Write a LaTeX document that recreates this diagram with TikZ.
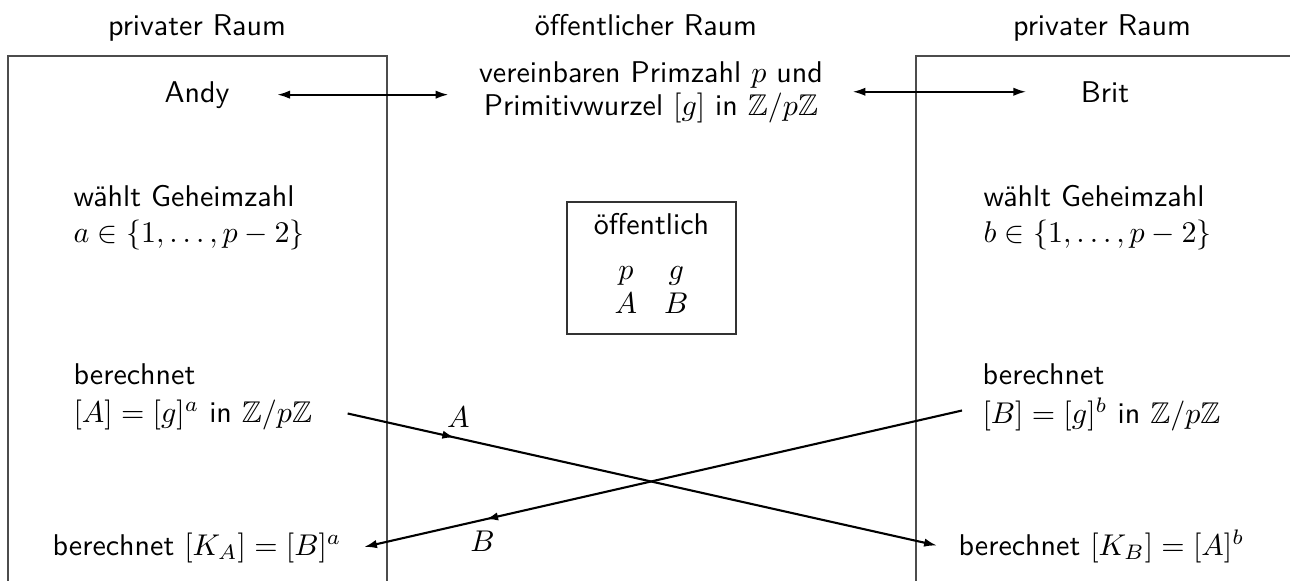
\documentclass[tikz,border=0pt]{standalone}
\usepackage{fontspec}
\usepackage{amsmath,amssymb}
\usetikzlibrary{arrows.meta,decorations.markings}
\begin{document}
\begin{tikzpicture}[x={(0.33333pt,0)}, y={(0,-0.33333pt)},
  txt/.style={inner sep=0pt, font=\sffamily},
  room/.style={draw=black!70, line width=0.45pt},
  pubbox/.style={draw=black!80, line width=0.45pt, inner sep=0pt, font=\sffamily},
  conn/.style={line width=0.7pt, -{Latex[length=4.3pt,width=2.8pt]}},
  dbl/.style={line width=0.7pt, {Latex[length=4.3pt,width=2.8pt]}-{Latex[length=4.3pt,width=2.8pt]}},
  midarrow/.style={postaction={decorate}, decoration={markings,
     mark=at position #1 with {\arrow{Latex[length=4pt,width=2.8pt]}}}},
  lbl/.style={font=\normalsize}]
\useasboundingbox (0,0) rectangle (1290,581);
% rooms
\draw[room] (8,581) -- (8,56) -- (387,56) -- (387,581);
\draw[room] (916,581) -- (916,56) -- (1290,56);
% titles
\node[txt, anchor=base] (tl) at (197,35) {privater Raum};
\node[txt, anchor=base] (tm) at (646,35) {öffentlicher Raum};
\node[txt, anchor=base] (tr) at (1102,35) {privater Raum};
% parties
\node[txt, anchor=base] (andy) at (197,102) {Andy};
\node[txt, anchor=base] (brit) at (1105,102) {Brit};
\node[txt, anchor=base] (agree) at (651,82) {\begin{tabular}[t]{@{}c@{}}vereinbaren Primzahl $p$ und\\[-1pt] Primitivwurzel $[g]$ in $\mathbb{Z}/p\mathbb{Z}$\end{tabular}};
\draw[dbl, shorten <=15.7pt, shorten >=10pt] (andy.east) -- (andy.east -| agree.west);
\draw[dbl, shorten <=9.7pt, shorten >=18pt] (agree.east |- brit.west) -- (brit.west);
% secrets
\node[txt, anchor=base west] (secA) at (73,206) {\begin{tabular}[t]{@{}l@{}}wählt Geheimzahl\\ $a\in\{1,\dots,p-2\}$\end{tabular}};
\node[txt, anchor=base west] (secB) at (983,206) {\begin{tabular}[t]{@{}l@{}}wählt Geheimzahl\\ $b\in\{1,\dots,p-2\}$\end{tabular}};
% public box
\node[pubbox, minimum width=56.3pt, minimum height=44pt] (pub) at (651.5,268)
  {\begin{tabular}{@{}c@{}}öffentlich\\[2.7pt]$\begin{array}[t]{@{}c@{\hspace{9pt}}c@{}}p&g\\[-0.7pt]A&B\\[0.8pt]\end{array}$\end{tabular}};
% computations
\node[txt, anchor=base west] (berA) at (73,384) {berechnet};
\node[txt, anchor=base west] (Aeq) at (73,422) {$[A]=[g]^a$ in $\mathbb{Z}/p\mathbb{Z}$};
\node[txt, anchor=base west] (berB) at (982,384) {berechnet};
\node[txt, anchor=base west] (Beq) at (982,423) {$[B]=[g]^b$ in $\mathbb{Z}/p\mathbb{Z}$};
\node[txt, anchor=base west] (KA) at (52,555) {berechnet $[K_A]=[B]^a$};
\node[txt, anchor=base west] (KB) at (958,555) {berechnet $[K_B]=[A]^b$};
% exchanges
\draw[conn, midarrow=0.181] ([shift={(35,-1)}]Aeq.east) -- ([shift={(-21,-0.5)}]KB.west)
  node[lbl, pos=0.188, above] (lA) {$A$};
\draw[conn, midarrow=0.796] ([shift={(-20,-3.5)}]Beq.west) -- ([shift={(22,-0.5)}]KA.east)
  node[lbl, pos=0.802, below] (lB) {$B$};
\end{tikzpicture}
\end{document}
